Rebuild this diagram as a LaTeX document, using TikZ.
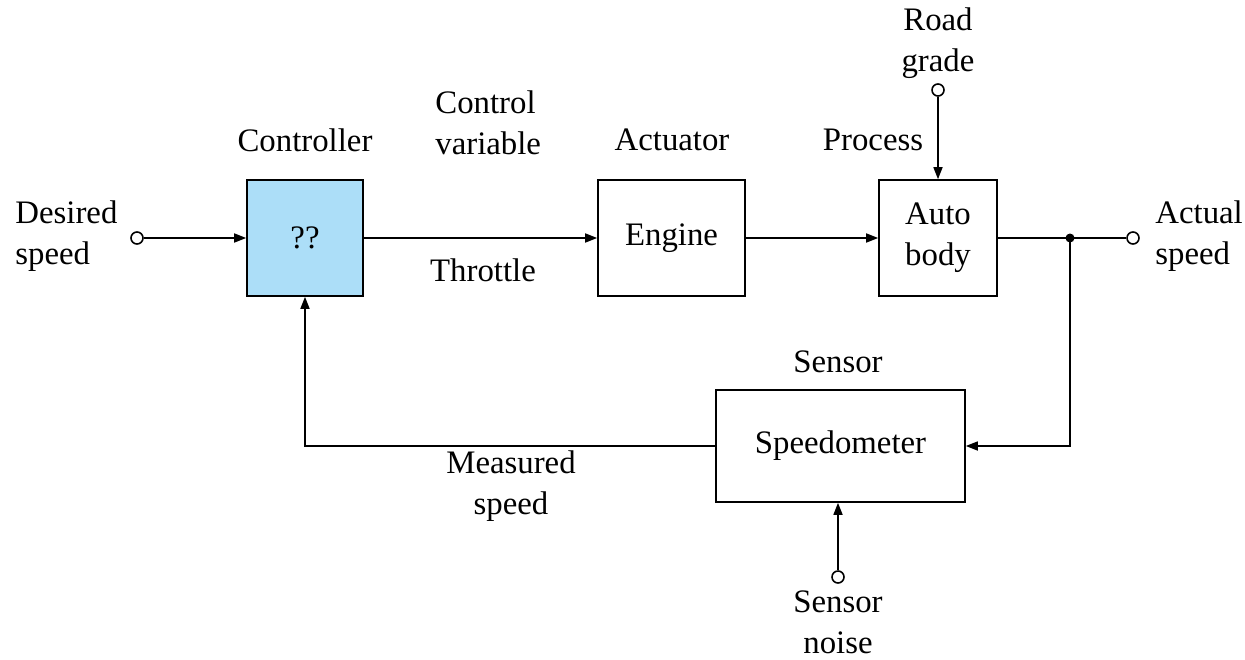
\documentclass[tikz,border=0pt]{standalone}
\usepackage{fontspec}
\setmainfont{Liberation Serif}
\usetikzlibrary{positioning,arrows.meta}

\definecolor{ctrlblue}{RGB}{172,222,248}

\tikzset{
  block/.style={rectangle, draw, line width=0.8pt, minimum width=#1, minimum height=58pt, inner sep=0pt},
  port/.style={circle, draw, line width=0.8pt, fill=white, minimum size=6pt, inner sep=0pt},
  sig/.style={line width=0.8pt, -{Triangle[length=6pt,width=4.5pt]}},
  lbl/.style={align=center, inner sep=0pt},
  lbll/.style={align=left, anchor=west, inner sep=0pt}
}

\begin{document}
\begin{tikzpicture}[x=0.5pt, y=-0.5pt, font=\fontsize{16.4}{20.5}\selectfont]
    \useasboundingbox (0,0) rectangle (1245,659);

    % blocks
    \node[block=58pt, fill=ctrlblue] (ctrl)   at (305,238)   {??};
    \node[block=73.5pt]              (engine) at (671.5,238) {Engine};
    \node[block=59pt, lbl]           (auto)   at (938,238)   {Auto\\body};
    \node[block=124.5pt, minimum height=56pt] (speedo) at (840.5,446) {Speedometer};

    % inputs and outputs
    \node[port] (din)   at (137,238) {};
    \node[port] (dout)  at (1133,238) {};
    \node[port] (road)  at (938,90) {};
    \node[port] (noise) at (838,577) {};
    \node[circle, fill, minimum size=4.5pt, inner sep=0pt] (junc) at (1070,238) {};

    % labels
    \node[lbll] (ldes)  at (15,236)   {Desired\\speed};
    \node[lbl] (lctrl)  at (305,140)  {Controller};
    \node[lbll] (lcv)   at (435,123)  {Control\\variable};
    \node[lbl] (lthr)   at (483,270)  {Throttle};
    \node[lbl] (lact)   at (672,140)  {Actuator};
    \node[lbl] (lproc)  at (873,140)  {Process};
    \node[lbl] (lroad)  at (938,43)   {Road\\grade};
    \node[lbll] (lout)  at (1155,236) {Actual\\speed};
    \node[lbl] (lsens)  at (838,362)  {Sensor};
    \node[lbl] (lmeas)  at (511,486)  {Measured\\speed};
    \node[lbl] (lnoise) at (838,622)  {Sensor\\noise};

    % forward path
    \draw[sig] (din) -- (ctrl);
    \draw[sig] (ctrl) -- (engine);
    \draw[sig] (engine) -- (auto);
    \draw[line width=0.8pt] (auto) -- (dout);
    \draw[sig] (road) -- (auto);

    % feedback path
    \draw[sig] (junc.center) |- (speedo);
    \draw[sig] (speedo) -| (ctrl);
    \draw[sig] (noise) -- (noise |- speedo.south);
\end{tikzpicture}
\end{document}
